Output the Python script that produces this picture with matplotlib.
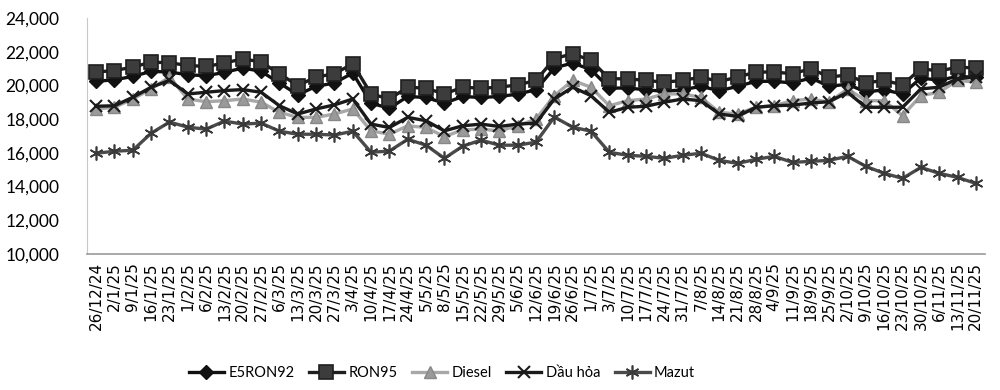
import matplotlib
matplotlib.use("Agg")
import matplotlib.pyplot as plt
from matplotlib.ticker import FuncFormatter

# weekly price-adjustment dates
dates = ["26/12/24", "2/1/25", "9/1/25", "16/1/25", "23/1/25", "1/2/25", "6/2/25",
         "13/2/25", "20/2/25", "27/2/25", "6/3/25", "13/3/25", "20/3/25", "27/3/25",
         "3/4/25", "10/4/25", "17/4/25", "24/4/25", "5/5/25", "8/5/25", "15/5/25",
         "22/5/25", "29/5/25", "5/6/25", "12/6/25", "19/6/25", "26/6/25", "1/7/25",
         "3/7/25", "10/7/25", "17/7/25", "24/7/25", "31/7/25", "7/8/25", "14/8/25",
         "21/8/25", "28/8/25", "4/9/25", "11/9/25", "18/9/25", "25/9/25", "2/10/25",
         "9/10/25", "16/10/25", "23/10/25", "30/10/25", "6/11/25", "13/11/25", "20/11/25"]

e5ron92 = [20240, 20330, 20530, 20830, 20790, 20630, 20570, 20770, 21030, 20830,
           20140, 19440, 19940, 20140, 20730, 18940, 18640, 19340, 19280, 18940,
           19340, 19280, 19340, 19480, 19740, 21030, 21330, 20930, 19840, 19840,
           19740, 19640, 19740, 19940, 19680, 19940, 20240, 20240, 20140, 20440,
           19940, 20070, 19600, 19740, 19480, 20440, 20300, 20530, 20480]

ron95 = [20790, 20880, 21080, 21380, 21340, 21180, 21120, 21320, 21580, 21380,
         20690, 19990, 20490, 20690, 21280, 19490, 19190, 19890, 19830, 19490,
         19890, 19830, 19890, 20030, 20290, 21580, 21880, 21480, 20390, 20390,
         20290, 20190, 20290, 20490, 20230, 20490, 20790, 20790, 20690, 20990,
         20490, 20620, 20150, 20290, 20030, 20990, 20850, 21080, 21030]

diesel = [18600, 18700, 19190, 19790, 20490, 19190, 19030, 19090, 19190, 19000,
          18400, 18100, 18100, 18300, 18600, 17300, 17100, 17600, 17500, 16960,
          17360, 17400, 17300, 17600, 18000, 19390, 20290, 19890, 18790, 19090,
          19190, 19490, 19490, 19290, 18400, 18300, 18700, 18800, 19090, 19190,
          19000, 19790, 19090, 19090, 18200, 19390, 19590, 20290, 20190]

dau_hoa = [18760, 18790, 19290, 19890, 20290, 19490, 19590, 19690, 19750, 19590,
           18790, 18300, 18600, 18840, 19190, 17700, 17500, 18100, 17900, 17300,
           17600, 17700, 17560, 17700, 17760, 19190, 19890, 19390, 18400, 18700,
           18760, 19000, 19190, 19090, 18300, 18160, 18700, 18790, 18830, 18950,
           19030, 19590, 18700, 18700, 18700, 19790, 19890, 20390, 20500]

mazut = [15970, 16090, 16150, 17160, 17820, 17520, 17400, 17880, 17700, 17760,
         17280, 17100, 17100, 17050, 17280, 16030, 16100, 16800, 16450, 15670,
         16390, 16750, 16450, 16450, 16630, 18120, 17520, 17280, 16030, 15850,
         15790, 15670, 15850, 15970, 15550, 15370, 15610, 15790, 15430, 15490,
         15550, 15790, 15190, 14780, 14480, 15130, 14780, 14540, 14180]

plt.rcParams['font.family'] = ['Lato', 'Open Sans', 'DejaVu Sans']

fig = plt.figure(figsize=(10, 3.9), dpi=100)
ax = fig.add_axes([0.087, 0.349, 0.898, 0.605])

x = list(range(len(dates)))

ax.plot(x, e5ron92, color="#111111", lw=2.4, marker="D", ms=7,
        mfc="#111111", mec="#111111", label="E5RON92")
ax.plot(x, ron95, color="#1e1e1e", lw=2.4, marker="s", ms=9.5,
        mfc="#3c3c3c", mec="#1e1e1e", mew=1.2, label="RON95")
ax.plot(x, diesel, color="#a8a8a8", lw=2.4, marker="^", ms=8.5,
        mfc="#9a9a9a", mec="#888888", label="Diesel")
ax.plot(x, dau_hoa, color="#1a1a1a", lw=2.4, marker="x", ms=8,
        mew=1.5, mec="#1a1a1a", label="Dầu hỏa")
ax.plot(x, mazut, color="#4a4a4a", lw=2.4, marker=(6, 2, 0), ms=10,
        mew=1.2, mec="#3a3a3a", label="Mazut")

ax.set_ylim(10000, 24000)
ax.set_xlim(-0.5, len(dates) - 0.5)
ax.set_yticks(range(10000, 24001, 2000))
ax.yaxis.set_major_formatter(FuncFormatter(lambda v, p: f"{int(v):,}"))
ax.set_xticks(x)
ax.set_xticklabels(dates, rotation=90, fontsize=11, family="DejaVu Sans")
ax.tick_params(axis="y", labelsize=12.5, length=0, pad=20)
ax.tick_params(axis="x", length=0, pad=6)

for s in ["top", "right"]:
    ax.spines[s].set_visible(False)
ax.spines["left"].set_color("#c8c8c8")
ax.spines["bottom"].set_color("#9a9a9a")
ax.spines["bottom"].set_linewidth(1.2)

fig.legend(loc="center", bbox_to_anchor=(0.442, 0.044), ncol=5, frameon=False,
           fontsize=10.5, handlelength=2.4, columnspacing=1.0, handletextpad=0.3)

fig.savefig("out.png", dpi=100)
